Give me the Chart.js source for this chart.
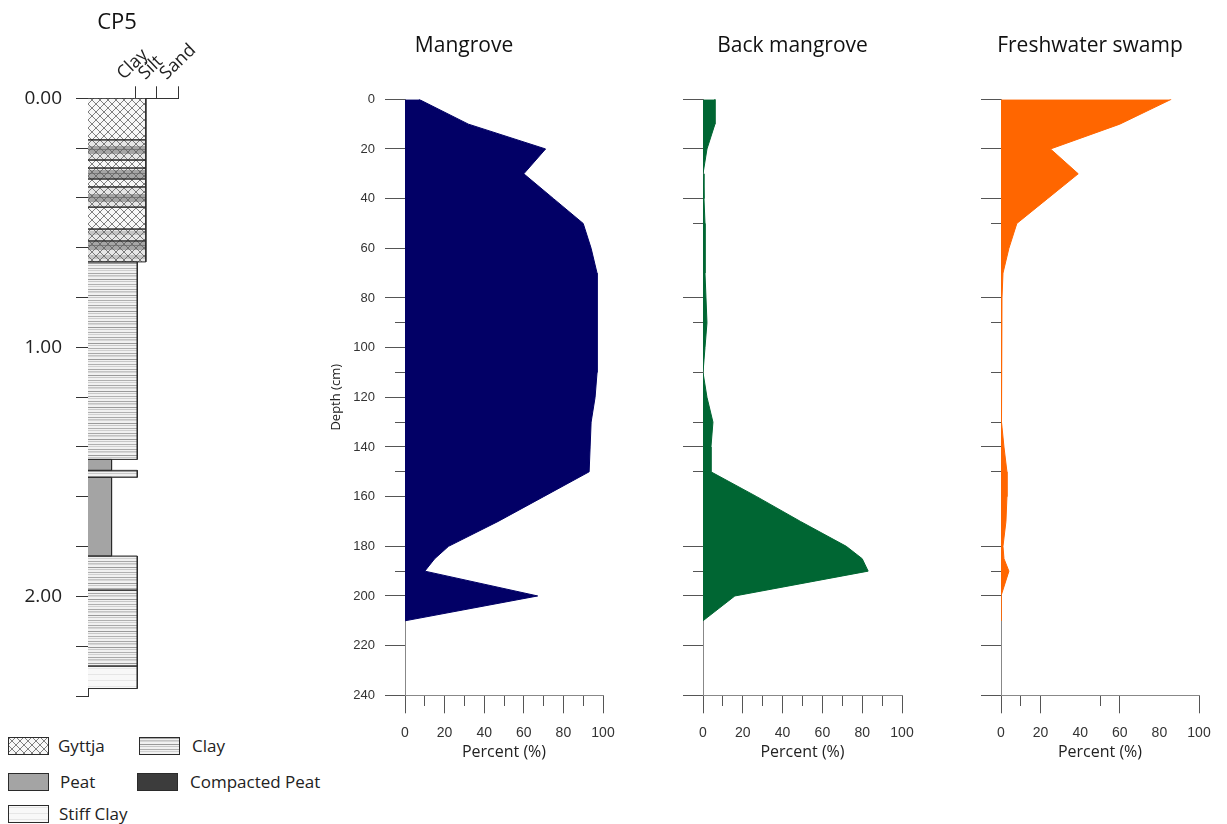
<!DOCTYPE html>
<html><head><meta charset="utf-8">
<script src="https://cdn.jsdelivr.net/npm/chart.js@4.4.1/dist/chart.umd.min.js"></script>
<style>
html,body{margin:0;padding:0;background:#fff;}
#wrap{position:relative;width:1227px;height:824px;overflow:hidden;background:#fff;}
#wrap canvas{position:absolute;}
.lgt{position:absolute;font-family:'Open Sans',sans-serif;font-size:17px;color:#222;line-height:20px;white-space:nowrap;}
</style></head>
<body><div id="wrap">
<canvas id="lith" width="234" height="712" style="left:0px;top:0px"></canvas>
<canvas id="mang" width="290" height="768" style="left:325px;top:0px"></canvas>
<canvas id="back" width="231" height="768" style="left:683px;top:0px"></canvas>
<canvas id="fresh" width="230" height="768" style="left:981px;top:0px"></canvas>
</div>
<script>
// ---------------- DATA ----------------
const depthSamples       = [0, 10, 20, 30, 40, 50, 60, 70, 80, 90, 100, 110, 120, 130, 140, 150, 160, 170, 180, 185, 190, 200, 210];
const mangroveValues     = [7, 32, 71, 60, 75, 90, 94, 97, 97, 97, 97, 97, 96, 94, 93.5, 93, 70, 47, 22, 15, 10, 67, 0];
const backMangroveValues = [6, 6, 2, 0, 0.5, 1, 1, 1, 1.5, 2, 1, 0, 2, 5, 4, 4, 27, 49, 72, 80, 83, 16, 0];
const freshwaterValues   = [86, 60, 25, 39, 23.5, 8, 4, 1, 0.5, 0.5, 0.5, 0.3, 0, 0, 1.5, 3, 3, 2.5, 1, 1.5, 4, 0, 0];

const panelTitles   = ['Mangrove', 'Back mangrove', 'Freshwater swamp'];
const percentTicks  = [0, 10, 20, 30, 40, 50, 60, 70, 80, 90, 100];
const depthMajor    = [0, 20, 40, 60, 80, 100, 120, 140, 160, 180, 200, 220, 240];
const depthMinorMangrove = [90, 110, 130, 150, 190];
const depthMinorOther    = [50, 90, 110, 130, 150, 190];
const depthHiddenOther   = [60, 100, 120, 160];
const percentHiddenFresh = [30, 40, 70, 80, 90];

// core lithology (depth in m)
const litTop   = [0, 0.167, 0.248, 0.280, 0.324, 0.356, 0.437, 0.525, 0.573, 0.657, 1.450, 1.494, 1.522, 1.838, 1.975, 2.280];
const litBase  = [0.167, 0.248, 0.280, 0.324, 0.356, 0.437, 0.525, 0.573, 0.657, 1.450, 1.494, 1.522, 1.838, 1.975, 2.280, 2.370];
const litType  = ['Gyttja','Gyttja-Clay','Gyttja','Gyttja-Clay','Gyttja','Gyttja-Clay','Gyttja','Gyttja-Clay','Gyttja-Clay','Clay','Peat','Clay','Peat','Clay','Clay','Stiff Clay'];
const litGrain = [2.7, 2.7, 2.7, 2.7, 2.7, 2.7, 2.7, 2.7, 2.7, 2.3, 1.1, 2.3, 1.1, 2.3, 2.3, 2.3];
const grainTicks  = [2.2, 3.2, 4.2];
const grainLabels = ['Clay', 'Silt', 'Sand'];
const coreDepthTicks  = [0, 0.2, 0.4, 0.6, 0.8, 1, 1.2, 1.4, 1.6, 1.8, 2, 2.2, 2.4];
const coreDepthLabels = [0, 1, 2];
const legendNames = ['Gyttja', 'Clay', 'Peat', 'Compacted Peat', 'Stiff Clay'];

// ---------------- PATTERNS ----------------
function tile(w, h, draw) {
  const c = document.createElement('canvas'); c.width = w; c.height = h;
  const g = c.getContext('2d'); draw(g, w, h); return c;
}
function hatch(g, w, h, col) {
  g.strokeStyle = col; g.lineWidth = 0.8;
  for (let o = -h; o < w + h; o += 8) {
    g.beginPath(); g.moveTo(o, 0); g.lineTo(o + h, h); g.stroke();
    g.beginPath(); g.moveTo(o, h); g.lineTo(o + h, 0); g.stroke();
  }
}
const tiles = {
  'Gyttja': tile(8, 8, (g, w, h) => { g.fillStyle = '#f7f7f7'; g.fillRect(0, 0, w, h); hatch(g, w, h, '#5e5e5e'); }),
  'Gyttja-Clay': tile(8, 24, (g, w, h) => {
    g.fillStyle = '#e6e6e6'; g.fillRect(0, 0, w, h);
    g.fillStyle = '#a6a6a6'; g.fillRect(0, 2, w, 8);
    g.fillStyle = '#7a7a7a'; g.fillRect(0, 5, w, 1);
    g.fillStyle = '#c4c4c4'; g.fillRect(0, 15, w, 4);
    hatch(g, w, h, '#5e5e5e');
  }),
  'Clay': tile(10, 16, (g, w, h) => {
    g.fillStyle = '#f1f1f1'; g.fillRect(0, 0, w, h);
    const rows = [[1, '#a8a8a8'], [3, '#c4c4c4'], [4, '#d6d6d6'], [7, '#9a9a9a'], [9, '#c8c8c8'], [12, '#b0b0b0'], [14, '#d0d0d0']];
    rows.forEach(([r, c]) => { g.fillStyle = c; g.fillRect(0, r, w, 1); });
  }),
  'Peat': tile(8, 8, (g, w, h) => { g.fillStyle = '#a4a4a4'; g.fillRect(0, 0, w, h); }),
  'Compacted Peat': tile(8, 8, (g, w, h) => { g.fillStyle = '#3c3c3c'; g.fillRect(0, 0, w, h); }),
  'Stiff Clay': tile(8, 6, (g, w, h) => { g.fillStyle = '#f8f8f8'; g.fillRect(0, 0, w, h); g.fillStyle = '#e6e6e6'; g.fillRect(0, 2, w, 1); })
};
const pctx = document.createElement('canvas').getContext('2d');
const patterns = {};
Object.keys(tiles).forEach(k => { patterns[k] = pctx.createPattern(tiles[k], 'repeat'); });

Chart.defaults.font.family = "'Open Sans', sans-serif";
Chart.defaults.color = '#222';

// ---------------- LITHOLOGY COLUMN ----------------
const litDatasets = [];
litTop.forEach((t, i) => {
  const b = litBase[i], w = litGrain[i];
  litDatasets.push({ data: [{x: w, y: t}, {x: w, y: b}], fill: 'origin', backgroundColor: patterns[litType[i]],
    borderWidth: 0, borderColor: 'rgba(0,0,0,0)', pointRadius: 0, order: 1 });
  litDatasets.push({ data: [{x: 0, y: t}, {x: w, y: t}, {x: w, y: b}, {x: 0, y: b}], fill: false,
    borderColor: '#2b2b2b', borderWidth: 1, pointRadius: 0, order: 0 });
});
new Chart(document.getElementById('lith'), {
  type: 'line',
  data: { datasets: litDatasets },
  options: {
    indexAxis: 'y', responsive: false, animation: false, events: [],
    layout: { padding: { left: 0, right: 0, top: 0, bottom: 16 } },
    plugins: { legend: { display: false }, tooltip: { enabled: false },
      title: { display: true, text: 'CP5', font: { size: 22, weight: 'normal' }, color: '#111', padding: { top: 10, bottom: 0 } } },
    scales: {
      x: { type: 'linear', position: 'top', min: 0, max: 4.2,
        afterBuildTicks: s => { s.ticks = grainTicks.map(v => ({ value: v })); },
        afterFit: s => { s.height = 61.9; s.paddingLeft = 0; s.paddingRight = 0; },
        ticks: { autoSkip: false, minRotation: 44, maxRotation: 44, padding: 2, font: { size: 18 }, color: '#222',
          callback: v => grainLabels[grainTicks.indexOf(v)] || '' },
        grid: { drawOnChartArea: false, tickLength: 12, color: '#333' },
        border: { color: '#333', width: 1 } },
      y: { type: 'linear', min: 0, max: 2.4, reverse: true,
        afterBuildTicks: s => { s.ticks = coreDepthTicks.map(v => ({ value: v })); },
        afterFit: s => { s.width = 88; s.paddingTop = 0; s.paddingBottom = 0; },
        ticks: { autoSkip: false, padding: 14, font: { size: 19 }, color: '#222',
          callback: v => coreDepthLabels.includes(v) ? v.toFixed(2) : '' },
        grid: { drawOnChartArea: false, tickLength: 12, color: '#333' },
        border: { color: '#333', width: 1 } },
      ySpacer: { type: 'linear', position: 'right', display: true,
        afterFit: s => { s.width = 56; s.paddingTop = 0; s.paddingBottom = 0; },
        ticks: { display: false }, grid: { display: false, drawTicks: false }, border: { display: false } }
    }
  }
});

// ---------------- POLLEN PANELS ----------------
function makePanel(id, title, values, color, cfg) {
  const yTicks = depthMajor.concat(cfg.minorY).sort((a, b) => a - b);
  return new Chart(document.getElementById(id), {
    type: 'line',
    data: { datasets: [{ data: depthSamples.map((d, i) => ({ x: values[i], y: d })), fill: 'origin',
      backgroundColor: color, borderColor: color, borderWidth: 1, pointRadius: 0, tension: 0 }] },
    options: {
      indexAxis: 'y', responsive: false, animation: false, events: [],
      layout: { padding: { left: 0, right: 12, top: 0, bottom: 0 } },
      plugins: { legend: { display: false }, tooltip: { enabled: false },
        title: { display: true, text: title, font: { size: 21, weight: 'normal' }, color: '#111', padding: { top: 33.4, bottom: 40.7 } } },
      scales: {
        x: { type: 'linear', position: 'bottom', min: 0, max: 100,
          afterBuildTicks: s => { s.ticks = percentTicks.map(v => ({ value: v })); },
          afterFit: s => { s.height = 72.7; s.paddingLeft = 0; s.paddingRight = 0; },
          ticks: { autoSkip: false, maxRotation: 0, padding: 11, font: { family: "'Liberation Sans', Arial, sans-serif", size: 14 }, color: '#333',
            callback: v => v % 20 === 0 ? String(v) : '' },
          grid: { drawOnChartArea: false, tickLength: 18, color: '#777',
            tickColor: c => (c.tick && cfg.hiddenX.includes(c.tick.value)) ? 'rgba(0,0,0,0)' : '#555',
            tickBorderDash: c => (c.tick && c.tick.value % 20 !== 0) ? [10, 40] : [] },
          border: { color: '#888', width: 1 },
          title: { display: true, text: 'Percent (%)', font: { size: 16 }, color: '#222', padding: { top: 0, bottom: 6 } } },
        y: { type: 'linear', min: 0, max: 240, reverse: true,
          afterBuildTicks: s => { s.ticks = yTicks.map(v => ({ value: v })); },
          afterFit: s => { s.width = cfg.labels ? 80 : 20; },
          ticks: { display: cfg.labels, autoSkip: false, padding: 10, font: { family: "'Liberation Sans', Arial, sans-serif", size: 13 }, color: '#333',
            callback: v => v % 20 === 0 ? String(v) : '' },
          grid: { drawOnChartArea: false, tickLength: 20, color: '#777',
            tickColor: c => (c.tick && cfg.hiddenY.includes(c.tick.value)) ? 'rgba(0,0,0,0)' : '#555',
            tickBorderDash: c => (c.tick && c.tick.value % 20 !== 0) ? [0, 10, 10, 40] : [] },
          border: { color: '#888', width: 1 },
          title: { display: cfg.labels, text: 'Depth (cm)', font: { size: 13 }, color: '#222', padding: { top: 3, bottom: 0 } } }
      }
    }
  });
}
makePanel('mang', panelTitles[0], mangroveValues, '#020066', { labels: true, minorY: depthMinorMangrove, hiddenY: [], hiddenX: [] });
makePanel('back', panelTitles[1], backMangroveValues, '#006633', { labels: false, minorY: depthMinorOther, hiddenY: depthHiddenOther, hiddenX: [] });
makePanel('fresh', panelTitles[2], freshwaterValues, '#ff6600', { labels: false, minorY: depthMinorOther, hiddenY: depthHiddenOther, hiddenX: percentHiddenFresh });

// ---------------- LITHOLOGY LEGEND ----------------
const legendLayout = [[8, 737, 58], [139, 737, 192], [8, 773, 60], [137, 773, 190], [8, 805, 59]];
const wrap = document.getElementById('wrap');
legendNames.forEach((name, i) => {
  const [sx, sy, tx] = legendLayout[i];
  const c = document.createElement('canvas');
  c.width = 41; c.height = 18; c.style.left = sx + 'px'; c.style.top = sy + 'px';
  const g = c.getContext('2d');
  g.fillStyle = patterns[name]; g.fillRect(0, 0, 41, 18);
  g.strokeStyle = '#2b2b2b'; g.lineWidth = 1; g.strokeRect(0.5, 0.5, 40, 17);
  wrap.appendChild(c);
  const t = document.createElement('div');
  t.className = 'lgt'; t.textContent = name; t.style.left = tx + 'px'; t.style.top = (sy - 1) + 'px';
  wrap.appendChild(t);
});
</script>
</body></html>
